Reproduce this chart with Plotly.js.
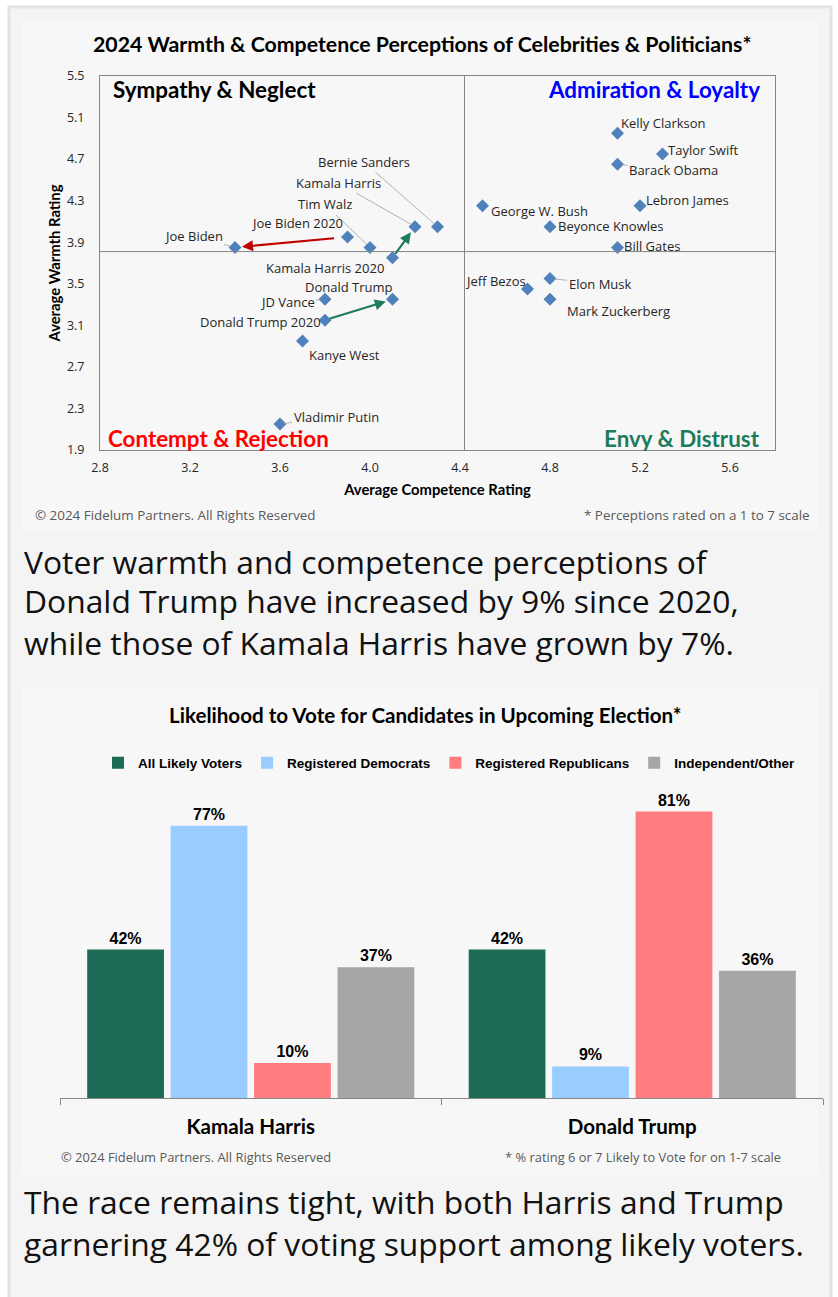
<!DOCTYPE html>
<html><head><meta charset="utf-8">
<script src="https://cdn.plot.ly/plotly-3.0.1.min.js"></script>
<style>html,body{margin:0;padding:0;background:#fff;} #chart{width:838px;height:1297px;}</style>
</head><body><div id="chart"></div>
<script>
// ---------- Scatter data (warmth vs competence) ----------
const people = ['Kelly Clarkson','Taylor Swift','Barack Obama','Lebron James','George W. Bush','Beyonce Knowles','Bill Gates','Elon Musk','Jeff Bezos','Mark Zuckerberg','Bernie Sanders','Kamala Harris','Tim Walz','Joe Biden 2020','Joe Biden','Kamala Harris 2020','Donald Trump','JD Vance','Donald Trump 2020','Kanye West','Vladimir Putin'];
const competence = [5.1,5.3,5.1,5.2,4.5,4.8,5.1,4.8,4.7,4.8,4.3,4.2,4.0,3.9,3.4,4.1,4.1,3.8,3.8,3.7,3.6];
const warmth =     [4.95,4.75,4.65,4.25,4.25,4.05,3.85,3.55,3.45,3.35,4.05,4.05,3.85,3.95,3.85,3.75,3.35,3.35,3.15,2.95,2.15];
const midCompetence = 4.42;
const midWarmth = 3.81;
const changes = [['Joe Biden 2020','Joe Biden'],['Kamala Harris 2020','Kamala Harris'],['Donald Trump 2020','Donald Trump']];
const quadrants = ['Sympathy & Neglect','Admiration & Loyalty','Contempt & Rejection','Envy & Distrust'];

// ---------- Bar data (likelihood to vote) ----------
const candidates = ['Kamala Harris','Donald Trump'];
const groups = ['All Likely Voters','Registered Democrats','Registered Republicans','Independent/Other'];
const allLikely = [42,42];
const democrats = [77,9];
const republicans = [10,81];
const independents = [37,36];

// ---------- Text ----------
const title1 = '2024 Warmth & Competence Perceptions of Celebrities & Politicians*';
const title2 = 'Likelihood to Vote for Candidates in Upcoming Election*';
const copyright = '© 2024 Fidelum Partners. All Rights Reserved';
const note1 = '* Perceptions rated on a 1 to 7 scale';
const note2 = '* % rating 6 or 7 Likely to Vote for on 1-7 scale';
const caption1 = ['Voter warmth and competence perceptions of','Donald Trump have increased by 9% since 2020,','while those of Kamala Harris have grown by 7%.'];
const caption2 = ['The race remains tight, with both Harris and Trump','garnering 42% of voting support among likely voters.'];

// ---------- Styles ----------
const px = v => v/838, py = v => 1 - v/1297;
// label offsets in px relative to point [dx, dy, leaderLine]
const labelStyle = {
 'Kelly Clarkson':[46,-10,0],'Taylor Swift':[41,-4,0],'Barack Obama':[56,6,1],'Lebron James':[47,-6,0],
 'George W. Bush':[57,5,0],'Beyonce Knowles':[61,-1,0],'Bill Gates':[34,-1,0],'Elon Musk':[50,5,1],
 'Jeff Bezos':[-32,-8,0],'Mark Zuckerberg':[68,12,0],'Bernie Sanders':[-74,-65,1],'Kamala Harris':[-77,-44,1],
 'Tim Walz':[-45,-43,1],'Joe Biden 2020':[-51,-14,0],'Joe Biden':[-42,-11,1],'Kamala Harris 2020':[-68,10.5,0],
 'Donald Trump':[-44,-12.5,0],'JD Vance':[-38,3,1],'Donald Trump 2020':[-65,2,0],'Kanye West':[42,14,0],'Vladimir Putin':[56,-7,1]
};
const changeColors = ['#C00000','#1E7B5B','#1E7B5B'];
const changeStart = [12,3,3];
const quadColors = ['#000000','#0000FF','#FF0000','#1E7B5B'];
const quadPos = [[111,90,'left'],[762,90,'right'],[106,438,'left'],[762,438,'right']];
const barColors = ['#1B6B57','#99CCFF','#FF7C80','#A6A6A6'];
const labelFont = {family:'Open Sans', size:13, color:'#262626'};

const traces = [{
  type:'scatter', mode:'markers', x:competence, y:warmth, text:people, xaxis:'x', yaxis:'y',
  marker:{symbol:'diamond', size:10, color:'#4F81BD'}, showlegend:false, hoverinfo:'text'
}];
const barSeries = [allLikely, democrats, republicans, independents];
barSeries.forEach((vals,i)=>{
  traces.push({type:'bar', x:candidates, y:vals, name:groups[i], xaxis:'x2', yaxis:'y2',
    marker:{color:barColors[i]}, text:vals.map(v=>v+'%'), textposition:'outside', cliponaxis:false,
    textfont:{family:'Liberation Sans', size:16, color:'#000', weight:'bold'}, hoverinfo:'x+y+name'});
});

const ann = [];
// point labels
people.forEach((p,i)=>{
  const s = labelStyle[p];
  if (s[2]) {
    ann.push({x:competence[i], y:warmth[i], xref:'x', yref:'y', text:p, showarrow:true, ax:s[0], ay:s[1],
      arrowhead:0, arrowwidth:0.8, arrowcolor:'#A0A0A0', standoff:4, font:labelFont});
  } else {
    ann.push({x:competence[i], y:warmth[i], xref:'x', yref:'y', text:p, showarrow:false, xshift:s[0], yshift:-s[1], font:labelFont});
  }
});
// change arrows
changes.forEach((c,k)=>{
  const a = people.indexOf(c[0]), b = people.indexOf(c[1]);
  ann.push({x:competence[b], y:warmth[b], ax:competence[a], ay:warmth[a], xref:'x', yref:'y', axref:'x', ayref:'y',
    text:'', showarrow:true, arrowhead:2, arrowsize:1, arrowwidth:2.2, arrowcolor:changeColors[k], standoff:7, startstandoff:changeStart[k]});
});
// quadrant labels
quadrants.forEach((q,i)=>{
  ann.push({x:px(quadPos[i][0]), y:py(quadPos[i][1]), xref:'paper', yref:'paper', xanchor:quadPos[i][2], yanchor:'middle',
    text:'<b>'+q+'</b>', showarrow:false, font:{family:'Lato', size:22.4, color:quadColors[i]}});
});
// titles
ann.push({x:px(422), y:py(44), xref:'paper', yref:'paper', text:'<b>'+title1+'</b>', showarrow:false, yanchor:'middle', font:{family:'Lato', size:21.3, color:'#000'}});
ann.push({x:px(425), y:py(715), xref:'paper', yref:'paper', text:'<b>'+title2+'</b>', showarrow:false, yanchor:'middle', font:{family:'Lato', size:20.6, color:'#000'}});
// footers
const footFont1 = {family:'Open Sans', size:13.4, color:'#595959'};
const footFont2 = {family:'Open Sans', size:12.9, color:'#595959'};
ann.push({x:px(33), y:py(515), xref:'paper', yref:'paper', xanchor:'left', yanchor:'middle', text:copyright, showarrow:false, font:footFont1});
ann.push({x:px(812), y:py(515), xref:'paper', yref:'paper', xanchor:'right', yanchor:'middle', text:note1, showarrow:false, font:footFont1});
ann.push({x:px(59), y:py(1157), xref:'paper', yref:'paper', xanchor:'left', yanchor:'middle', text:copyright, showarrow:false, font:footFont2});
ann.push({x:px(783), y:py(1157), xref:'paper', yref:'paper', xanchor:'right', yanchor:'middle', text:note2, showarrow:false, font:footFont2});
// captions
const capFont = {family:'Open Sans', size:31.8, color:'#111'};
const cap1Y = [561,601,642], cap2Y = [1201,1243];
caption1.forEach((t,i)=>ann.push({x:px(22), y:py(cap1Y[i]), xref:'paper', yref:'paper', xanchor:'left', yanchor:'middle', text:t, showarrow:false, font:capFont}));
caption2.forEach((t,i)=>ann.push({x:px(22), y:py(cap2Y[i]), xref:'paper', yref:'paper', xanchor:'left', yanchor:'middle', text:t, showarrow:false, font:capFont}));

const shapes = [
  {type:'rect', xref:'paper', yref:'paper', x0:px(9), x1:px(831), y0:py(1310), y1:py(7), fillcolor:'#f4f4f4', line:{color:'#e3e3e3', width:3}, layer:'below'},
  {type:'rect', xref:'paper', yref:'paper', x0:px(22), x1:px(818), y0:py(530), y1:py(22), fillcolor:'#f7f7f7', line:{width:0}, layer:'below'},
  {type:'rect', xref:'paper', yref:'paper', x0:px(22), x1:px(818), y0:py(1175), y1:py(688), fillcolor:'#f7f7f7', line:{width:0}, layer:'below'},
  {type:'line', xref:'x', yref:'y domain', x0:midCompetence, x1:midCompetence, y0:0, y1:1, line:{color:'#868686', width:1}},
  {type:'line', xref:'x domain', yref:'y', x0:0, x1:1, y0:midWarmth, y1:midWarmth, line:{color:'#868686', width:1}}
];

const tickFont = {family:'Open Sans', size:12.5, color:'#262626'};
const layout = {
  width:838, height:1297, margin:{l:0,r:0,t:0,b:0},
  paper_bgcolor:'#ffffff', plot_bgcolor:'rgba(0,0,0,0)',
  font:{family:'Open Sans', color:'#262626'},
  xaxis:{domain:[px(100),px(775)], range:[2.8,5.8], tick0:2.8, dtick:0.4, tickformat:'.1f', showline:true, mirror:true,
    linecolor:'#868686', linewidth:1, showgrid:false, zeroline:false, ticks:'', tickfont:tickFont, ticklabelstandoff:6,
    title:{text:'<b>Average Competence Rating</b>', font:{family:'Lato', size:14.8, color:'#000'}, standoff:9}, fixedrange:true},
  yaxis:{domain:[py(450),py(76)], range:[1.9,5.5], tick0:1.9, dtick:0.4, tickformat:'.1f', showline:true, mirror:true,
    linecolor:'#868686', linewidth:1, showgrid:false, zeroline:false, ticks:'', tickfont:tickFont, ticklabelstandoff:12,
    title:{text:'<b>Average Warmth Rating</b>', font:{family:'Lato', size:14.8, color:'#000'}, standoff:2}, fixedrange:true},
  xaxis2:{domain:[px(60),px(823)], anchor:'y2', type:'category', showline:true, linecolor:'#868686', linewidth:1,
    ticks:'outside', tickson:'boundaries', ticklen:6, tickcolor:'#868686', showgrid:false,
    tickfont:{family:'Lato', size:20.6, color:'#000', weight:'bold'}, ticklabelstandoff:10, fixedrange:true},
  yaxis2:{domain:[py(1098.3),py(797.4)], anchor:'x2', range:[0,85], visible:false, fixedrange:true},
  barmode:'group', bargap:0.125, bargroupgap:0.08,
  showlegend:true,
  legend:{orientation:'h', x:px(98), xanchor:'left', y:py(763), yanchor:'middle', bgcolor:'rgba(0,0,0,0)',
    font:{family:'Liberation Sans', size:13.5, color:'#000', weight:'bold'}, traceorder:'normal'},
  shapes:shapes, annotations:ann
};
Plotly.newPlot('chart', traces, layout, {displayModeBar:false, staticPlot:true});
</script></body></html>
